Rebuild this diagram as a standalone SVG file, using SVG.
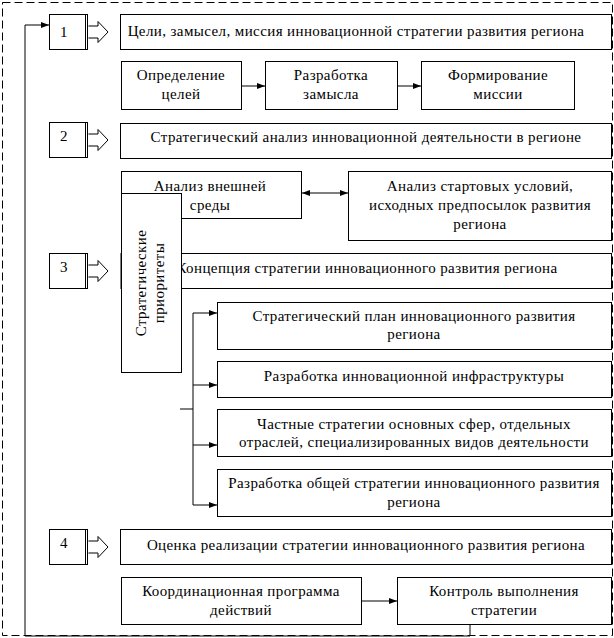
<svg xmlns="http://www.w3.org/2000/svg" width="614" height="638" viewBox="0 0 614 638">
<style>
.b{fill:#fff;stroke:#000;stroke-width:1}
.l{fill:none;stroke:#000;stroke-width:1}
.t{font-family:'Liberation Serif','DejaVu Serif',serif;font-size:15px;letter-spacing:0.4px;fill:#000;text-anchor:middle}
.n{font-family:'Liberation Serif','DejaVu Serif',serif;font-size:15px;fill:#000}
.d{fill:none;stroke:#000;stroke-width:1;stroke-dasharray:8,4}
</style>
<defs>
<marker id="ah" viewBox="0 0 8 8" refX="8" refY="4" markerWidth="8" markerHeight="8" markerUnits="userSpaceOnUse" orient="auto">
<path d="M0,1 L8,4 L0,7 Z" fill="#000"/>
</marker>
<marker id="as" viewBox="0 0 8 8" refX="0" refY="4" markerWidth="8" markerHeight="8" markerUnits="userSpaceOnUse" orient="auto">
<path d="M8,1 L0,4 L8,7 Z" fill="#000"/>
</marker>
</defs>
<rect x="2.5" y="2.5" width="610" height="633" class="d"/>

<g id="connectors">
<polyline class="l" points="470,625 470,636 25,636 25,25 49,25" marker-end="url(#ah)"/>
<line class="l" x1="242" y1="86" x2="265" y2="86" marker-end="url(#ah)"/>
<line class="l" x1="398" y1="86" x2="421" y2="86" marker-end="url(#ah)"/>
<line class="l" x1="302" y1="193" x2="348" y2="193" marker-start="url(#as)" marker-end="url(#ah)"/>
<line class="l" x1="180" y1="409" x2="193" y2="409"/>
<line class="l" x1="193" y1="313" x2="193" y2="505"/>
<line class="l" x1="193" y1="313" x2="217" y2="313" marker-end="url(#ah)"/>
<line class="l" x1="193" y1="385" x2="217" y2="385" marker-end="url(#ah)"/>
<line class="l" x1="193" y1="445" x2="217" y2="445" marker-end="url(#ah)"/>
<line class="l" x1="193" y1="505" x2="217" y2="505" marker-end="url(#ah)"/>
<line class="l" x1="361" y1="601" x2="397" y2="601" marker-end="url(#ah)"/>
</g>

<g id="step1">
<rect class="b" x="49.5" y="14.5" width="38" height="35"/>
<line class="l" x1="85.5" y1="14.5" x2="85.5" y2="49.5"/>
<path class="b" d="M88.5,26 H98 V21.5 L108,32 L98,42.5 V38 H88.5"/>
<text class="n" x="60" y="37">1</text>
</g>
<g id="title1">
<rect class="b" x="120.5" y="14.5" width="491" height="35"/>
<text class="t" x="356" y="36">Цели, замысел, миссия инновационной стратегии развития региона</text>
</g>
<g id="goals">
<rect class="b" x="121.5" y="61.5" width="120" height="48"/>
<text class="t" x="181" y="80">Определение</text>
<text class="t" x="181" y="99">целей</text>
</g>
<g id="idea">
<rect class="b" x="265.5" y="61.5" width="132" height="48"/>
<text class="t" x="331" y="80">Разработка</text>
<text class="t" x="331" y="99">замысла</text>
</g>
<g id="mission">
<rect class="b" x="421.5" y="61.5" width="153" height="48"/>
<text class="t" x="498" y="80">Формирование</text>
<text class="t" x="498" y="99">миссии</text>
</g>

<g id="step2">
<rect class="b" x="49.5" y="122.5" width="38" height="35"/>
<line class="l" x1="85.5" y1="122.5" x2="85.5" y2="157.5"/>
<path class="b" d="M88.5,134 H98 V129.5 L108,140 L98,150.5 V146 H88.5"/>
<text class="n" x="60" y="141">2</text>
</g>
<g id="title2">
<rect class="b" x="120.5" y="123.5" width="491" height="35"/>
<text class="t" x="366" y="142">Стратегический анализ инновационной деятельности в регионе</text>
</g>
<g id="external">
<rect class="b" x="121.5" y="171.5" width="180" height="47"/>
<text class="t" x="210" y="191">Анализ внешней</text>
<text class="t" x="210" y="210">среды</text>
</g>
<g id="start">
<rect class="b" x="348.5" y="171.5" width="263" height="69"/>
<text class="t" x="480" y="191">Анализ стартовых условий,</text>
<text class="t" x="480" y="210">исходных предпосылок развития</text>
<text class="t" x="480" y="229">региона</text>
</g>

<g id="step3">
<rect class="b" x="49.5" y="253.5" width="38" height="35" stroke-width="2"/>
<line class="l" x1="85.5" y1="253.5" x2="85.5" y2="288.5"/>
<path class="b" d="M88.5,265 H98 V260.5 L108,271 L98,281.5 V277 H88.5"/>
<text class="n" x="60" y="272">3</text>
</g>
<g id="title3">
<rect class="b" x="121" y="253.5" width="490.5" height="35"/>
<text class="t" x="367" y="273">Концепция стратегии инновационного развития региона</text>
</g>
<g id="priorities">
<rect class="b" x="121.5" y="193.5" width="60" height="179"/>
<text class="t" transform="translate(146,283) rotate(-90)">Стратегические</text>
<text class="t" transform="translate(164,283) rotate(-90)">приоритеты</text>
</g>
<g id="plan">
<rect class="b" x="217.5" y="302.5" width="394" height="47"/>
<text class="t" x="414" y="321">Стратегический план инновационного развития</text>
<text class="t" x="414" y="339">региона</text>
</g>
<g id="infra">
<rect class="b" x="217.5" y="361.5" width="394" height="36"/>
<text class="t" x="414" y="381">Разработка инновационной инфраструктуры</text>
</g>
<g id="private">
<rect class="b" x="217.5" y="409.5" width="394" height="47"/>
<text class="t" x="414" y="429">Частные стратегии основных сфер, отдельных</text>
<text class="t" x="414" y="447">отраслей, специализированных видов деятельности</text>
</g>
<g id="general">
<rect class="b" x="217.5" y="469.5" width="394" height="47"/>
<text class="t" x="414" y="488">Разработка общей стратегии инновационного развития</text>
<text class="t" x="414" y="507">региона</text>
</g>

<g id="step4">
<rect class="b" x="49.5" y="529.5" width="38" height="35"/>
<line class="l" x1="85.5" y1="529.5" x2="85.5" y2="564.5"/>
<path class="b" d="M88.5,541 H98 V536.5 L108,547 L98,557.5 V553 H88.5"/>
<text class="n" x="60" y="548">4</text>
</g>
<g id="title4">
<rect class="b" x="120.5" y="529.5" width="491" height="35"/>
<text class="t" x="366" y="550">Оценка реализации стратегии инновационного развития региона</text>
</g>
<g id="coord">
<rect class="b" x="121.5" y="577.5" width="240" height="47"/>
<text class="t" x="241" y="596">Координационная программа</text>
<text class="t" x="241" y="615">действий</text>
</g>
<g id="control">
<rect class="b" x="397.5" y="577.5" width="214" height="47"/>
<text class="t" x="504" y="596">Контроль выполнения</text>
<text class="t" x="504" y="615">стратегии</text>
</g>
</svg>
